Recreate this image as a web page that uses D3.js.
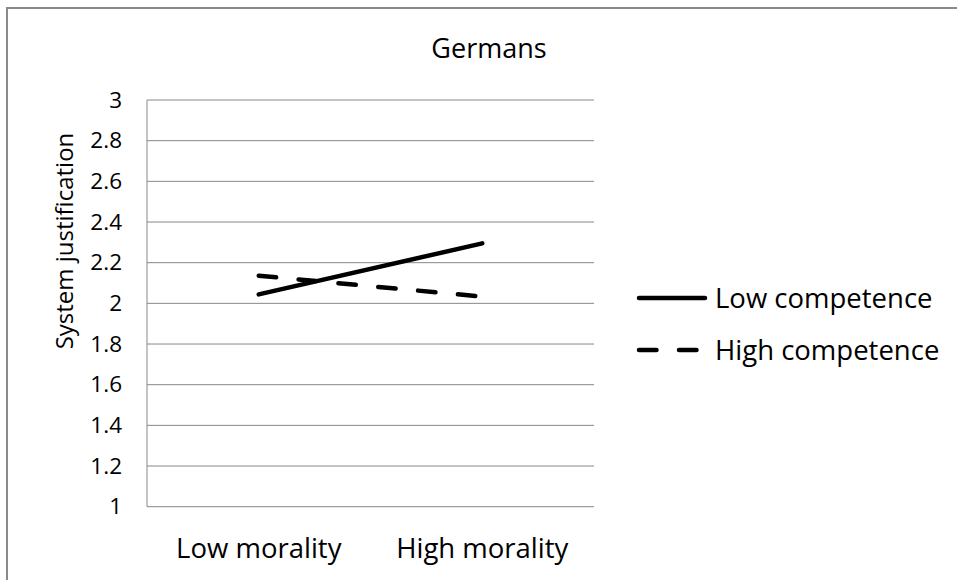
<!DOCTYPE html>
<html>
<head>
<meta charset="utf-8">
<script src="https://cdn.jsdelivr.net/npm/d3@7"></script>
<style>
  html, body { margin: 0; padding: 0; background: #fff; overflow: hidden; }
  svg { display: block; }
  text { font-family: "Open Sans", "Noto Sans", sans-serif; fill: #000; }
</style>
</head>
<body>
<script>
const categories = ["Low morality", "High morality"];
const seriesNames = ["Low competence", "High competence"];
const lowCompetence = [2.044, 2.295];
const highCompetence = [2.136, 2.033];
const yTicks = [1, 1.2, 1.4, 1.6, 1.8, 2, 2.2, 2.4, 2.6, 2.8, 3];
const chartTitle = "Germans";
const yTitle = "System justification";

const W = 957, H = 580;
const plot = { left: 147, right: 594, top: 100, bottom: 506.7 };

const svg = d3.select("body").append("svg").attr("width", W).attr("height", H);

// outer frame
svg.append("rect")
  .attr("x", 7).attr("y", 8).attr("width", 1000).attr("height", 700)
  .attr("fill", "none").attr("stroke", "#8a8a8a").attr("stroke-width", 2);

const x = d3.scaleBand().domain(categories).range([plot.left, plot.right]);
const y = d3.scaleLinear().domain([1, 3]).range([plot.bottom, plot.top]);

// gridlines
svg.append("g").selectAll("line").data(yTicks).join("line")
  .attr("x1", plot.left).attr("x2", plot.right)
  .attr("y1", d => y(d)).attr("y2", d => y(d))
  .attr("stroke", "#878787").attr("stroke-width", 1);

// y axis line
svg.append("line")
  .attr("x1", plot.left).attr("x2", plot.left)
  .attr("y1", y(3)).attr("y2", y(1))
  .attr("stroke", "#878787").attr("stroke-width", 1);

// y tick labels
const yAxis = d3.axisLeft(y).tickValues(yTicks).tickSize(0).tickPadding(25)
  .tickFormat(d => d3.format("")(+d.toFixed(1)));
const gy = svg.append("g").attr("transform", `translate(${plot.left},0)`).call(yAxis);
gy.select(".domain").remove();
gy.selectAll("text").style("font-size", "22.5px").style("font-family", '"Open Sans", sans-serif').attr("fill", "#000");

// x category labels
const xAxis = d3.axisBottom(x).tickSize(0).tickPadding(0);
const gx = svg.append("g").attr("transform", `translate(0,${plot.bottom})`).call(xAxis);
gx.select(".domain").remove();
gx.selectAll("text").style("font-size", "27.5px").style("font-family", '"Open Sans", sans-serif')
  .attr("fill", "#000").attr("dy", null).attr("y", 51);

// lines
const line = d3.line().x((d, i) => x(categories[i]) + x.bandwidth() / 2).y(d => y(d));
svg.append("path").datum(lowCompetence).attr("d", line)
  .attr("fill", "none").attr("stroke", "#000").attr("stroke-width", 4.5)
  .attr("stroke-linecap", "round");
svg.append("path").datum(highCompetence).attr("d", line)
  .attr("fill", "none").attr("stroke", "#000").attr("stroke-width", 4.5)
  .attr("stroke-linecap", "round").attr("stroke-dasharray", "17.5,22.5");

// title
svg.append("text").attr("x", 489).attr("y", 58).attr("text-anchor", "middle")
  .style("font-size", "27px").text(chartTitle);

// y title
svg.append("text").attr("transform", "translate(73,241) rotate(-90)")
  .attr("text-anchor", "middle").style("font-size", "24px").text(yTitle);

// legend
const legend = svg.append("g");
const legendY = [298, 350];
const dashes = [null, "17.5,22.5"];
seriesNames.forEach((name, i) => {
  legend.append("line")
    .attr("x1", 639).attr("x2", 705).attr("y1", legendY[i]).attr("y2", legendY[i])
    .attr("stroke", "#000").attr("stroke-width", 4.5).attr("stroke-linecap", "round")
    .attr("stroke-dasharray", dashes[i]);
  legend.append("text").attr("x", 715).attr("y", legendY[i] + 9.5)
    .style("font-size", "27.5px").text(name);
});
</script>
</body>
</html>
